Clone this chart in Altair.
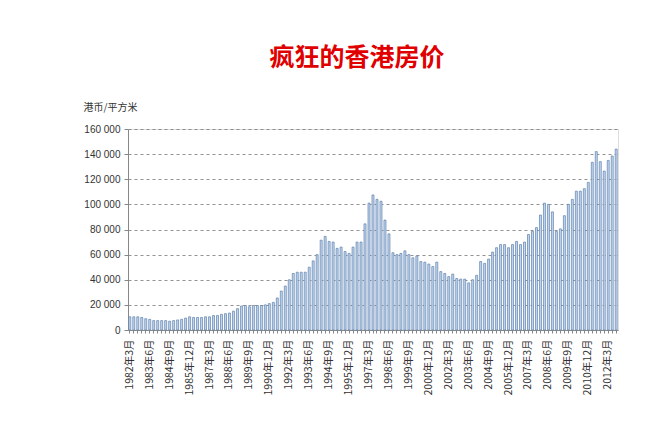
import altair as alt
import pandas as pd

# Quarterly average price, thousand HKD per square metre (1982Q1 .. 2012Q3)
values_k = [
    10.5, 10.5, 10.5, 10, 9, 8.5, 7.5, 7.5, 7.5, 7.5,
    7, 7.5, 8, 8.5, 9.5, 10.5, 10, 10, 10, 10.5,
    10.5, 11.5, 11.5, 12.5, 13, 13.5, 15, 17, 19, 19.5,
    18.5, 19.5, 19.5, 19.5, 20, 21, 22, 25.5, 31, 35,
    40, 45, 46, 46, 46, 50, 55, 60, 71.5, 74.5,
    70.5, 70, 65, 66, 62.5, 61, 66, 70, 70, 84.5,
    101, 107.5, 104, 102.5, 87.5, 76.5, 61.5, 60, 61, 63,
    60, 57.5, 59, 54.5, 54, 52.5, 50.5, 54, 46.5, 45,
    42.5, 44.5, 41, 40.5, 40.5, 37.5, 40, 43.5, 54.5, 53,
    56.5, 62, 65.5, 68, 68, 65.5, 68, 70.5, 68, 70,
    76, 78.5, 81.5, 91.5, 101, 100, 94, 78.5, 80.5, 91,
    100, 104, 110.5, 110.5, 112.5, 117.5, 133.5, 142, 134, 126.5,
    135, 138.5, 144,
]
years = list(range(1982, 2013))
months = [3, 6, 9, 12]
quarters = [f"{y}年{m}月" for y in years for m in months][: len(values_k)]
y_ticks = [0, 20000, 40000, 60000, 80000, 100000, 120000, 140000, 160000]

df = pd.DataFrame({"quarter": quarters, "price": [v * 1000 for v in values_k]})

x_label_expr = (
    "(4*(toNumber(slice(datum.value,0,4))-1982) + "
    "toNumber(slice(datum.value,5,-1))/3 - 1) % 5 == 0 ? datum.value : ''"
)

chart = (
    alt.Chart(df)
    .mark_bar(fill="#c4d7ee", stroke="#5b7fae", strokeWidth=0.7)
    .encode(
        x=alt.X(
            "quarter:O",
            sort=quarters,
            scale=alt.Scale(paddingInner=0.5, paddingOuter=0.2),
            axis=alt.Axis(
                title=None,
                labelExpr=x_label_expr,
                labelAngle=270,
                labelFontSize=10.5,
                labelFont="Noto Sans CJK SC",
                labelColor="#333333",
                labelPadding=6,
                labelOverlap=False,
                tickSize=3,
                tickColor="#888888",
                domainColor="#888888",
                grid=False,
            ),
        ),
        y=alt.Y(
            "price:Q",
            scale=alt.Scale(domain=[0, 160000], nice=False),
            axis=alt.Axis(
                values=y_ticks,
                labelExpr="replace(format(datum.value, ','), ',', ' ')",
                labelFont="Liberation Sans",
                labelFontSize=10,
                labelColor="#333333",
                labelPadding=4,
                tickSize=4,
                tickColor="#888888",
                domainColor="#888888",
                gridDash=[3, 3],
                gridColor="#777777",
                gridWidth=0.8,
                title="港币/平方米",
                titleFont="Noto Sans CJK SC",
                titleFontSize=10,
                titleFontWeight="normal",
                titleColor="#333333",
                titleAngle=0,
                titleAlign="left",
                titleBaseline="middle",
                titleX=-45,
                titleY=-22,
            ),
        ),
    )
    .properties(
        width=490,
        height=201,
        autosize=alt.AutoSizeParams(type="none"),
        padding={"left": 128, "top": 129, "right": 32, "bottom": 95},
        title=alt.Title(
            "疯狂的香港房价",
            color="#e00000",
            fontSize=25,
            font="Noto Sans CJK SC",
            fontWeight="bold",
            anchor="middle",
            offset=31,
            dx=-16,
        ),
    )
    .configure_view(stroke=None)
    .configure(background="white")
)

chart.save("out.html", embed_options={"renderer": "svg", "actions": False})
